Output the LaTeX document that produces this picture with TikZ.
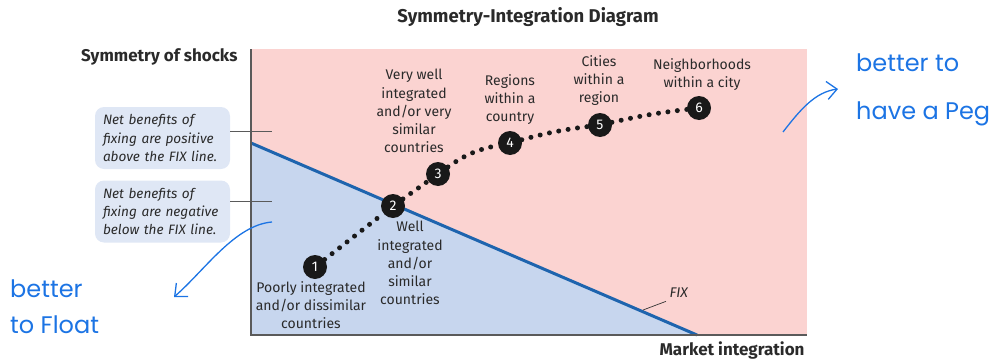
\documentclass[tikz,border=0pt]{standalone}
\usepackage{fontspec}
\setmainfont{Fira Sans}
\newfontfamily\handfont{Poppins}
\usetikzlibrary{arrows.meta}
\definecolor{pinkbg}{HTML}{FBD3D1}
\definecolor{bluebg}{HTML}{C7D6EE}
\definecolor{fixblue}{HTML}{1E64AE}
\definecolor{boxblue}{HTML}{DFE7F5}
\definecolor{axisgray}{HTML}{5A5A5A}
\definecolor{txt}{HTML}{2A2A2A}
\definecolor{hand}{HTML}{1C74E4}
\tikzset{
  pt/.style={circle,fill=black!90,text=white,inner sep=0pt,minimum size=24pt,font=\fontsize{14}{14}\selectfont},
  lab/.style={align=center,text=txt,font=\fontsize{14}{18.3}\selectfont,inner sep=0pt},
  note/.style={rounded corners=9pt,fill=boxblue,align=left,text=txt,font=\fontsize{13.6}{18.3}\selectfont\itshape,inner xsep=8pt,inner ysep=0pt,minimum width=135pt,minimum height=62pt,text width=119pt},
  dotline/.style={line width=5pt,line cap=round,dash pattern=on 0pt off 9.5pt,black!90},
  axis/.style={axisgray,line width=1.3pt},
  tick/.style={axisgray,line width=0.9pt},
  ttl/.style={font=\fontsize{17}{17}\selectfont\bfseries,text=txt},
  handtxt/.style={text=hand,font=\handfont\fontsize{24}{48}\selectfont,align=left,inner sep=0pt},
  handarrow/.style={hand,line width=1.3pt,-{Straight Barb[length=10pt,width=18pt,line width=1.3pt]}}
}
\begin{document}
\begin{tikzpicture}[x=1pt,y=-1pt]
\useasboundingbox (0,0) rectangle (999,359);
% backgrounds
\coordinate (tl) at (251,49);
\coordinate (br) at (807,335);
\coordinate (fixa) at (251,143);
\coordinate (fixb) at (697,335);
\fill[pinkbg] (tl) rectangle (br);
\fill[bluebg] (fixa) -- (fixb) -- (251,335) -- cycle;
\draw[fixblue,line width=3pt] (fixa) -- (fixb);
% axes
\draw[axis] (251,49) -- (251,335) -- (807,335);
% title & axis labels
\node[ttl,font=\fontsize{18.5}{18.5}\selectfont\bfseries] (title) at (528,17) {Symmetry-Integration Diagram};
\node[ttl,anchor=east] (ylab) at (241,57) {Symmetry of shocks};
\node[ttl,anchor=east] (xlab) at (808,350) {Market integration};
% notes
\node[note] (n1) at (162.5,138) {Net benefits of\\fixing are positive\\above the FIX line.};
\node[note] (n2) at (162.5,211.5) {Net benefits of\\fixing are negative\\below the FIX line.};
\coordinate (t1) at (272,131);
\coordinate (t2) at (272,201);
\draw[tick] (n1.east |- t1) -- (t1);
\draw[tick] (n2.east |- t2) -- (t2);
% FIX label
\node[font=\fontsize{14}{14}\selectfont\itshape,text=txt,anchor=west] (fix) at (666,293) {FIX};
\coordinate (fixp) at (643,310);
\draw[black!80,line width=0.7pt] (fixp) -- (fix.south west);
% points
\node[pt] (p1) at (315,267) {1};
\node[pt] (p2) at (393,206) {2};
\node[pt] (p3) at (438,174) {3};
\node[pt] (p4) at (510,143) {4};
\node[pt] (p5) at (600,125) {5};
\node[pt] (p6) at (699,108) {6};
\draw[dotline] (p1) -- (p2);
\draw[dotline] (p2) -- (p3);
\draw[dotline] (p3) to[bend left=12] (p4);
\draw[dotline] (p4) to[bend left=4] (p5);
\draw[dotline] (p5) to[bend left=3] (p6);
% labels
\node[lab,anchor=north] (l1) at (311,281) {Poorly integrated\\and/or dissimilar\\countries};
\node[lab,anchor=north] (l2) at (410,221) {Well\\integrated\\and/or\\similar\\countries};
\node[lab,anchor=north] (l3) at (414,69) {Very well\\integrated\\and/or very\\similar\\countries};
\node[lab,anchor=north] (l4) at (510,74) {Regions\\within a\\country};
\node[lab,anchor=north] (l5) at (599,55) {Cities\\within a\\region};
\node[lab,anchor=north] (l6) at (702,58) {Neighborhoods\\within a city};
% handwriting
\node[handtxt,anchor=north west] (hp) at (856,54) {better to\\have a Peg};
\node[handtxt,anchor=north west] (hf) at (10,280) {better\\[-12pt]to Float};
\coordinate (ra) at (783,132);
\coordinate (rb) at (838,89);
\coordinate (la) at (272,222);
\coordinate (lb) at (174,297);
\draw[handarrow] (ra) .. controls (800,110) and (815,92) .. (rb);
\draw[handarrow] (la) .. controls (235,225) and (205,270) .. (lb);
\end{tikzpicture}
\end{document}
